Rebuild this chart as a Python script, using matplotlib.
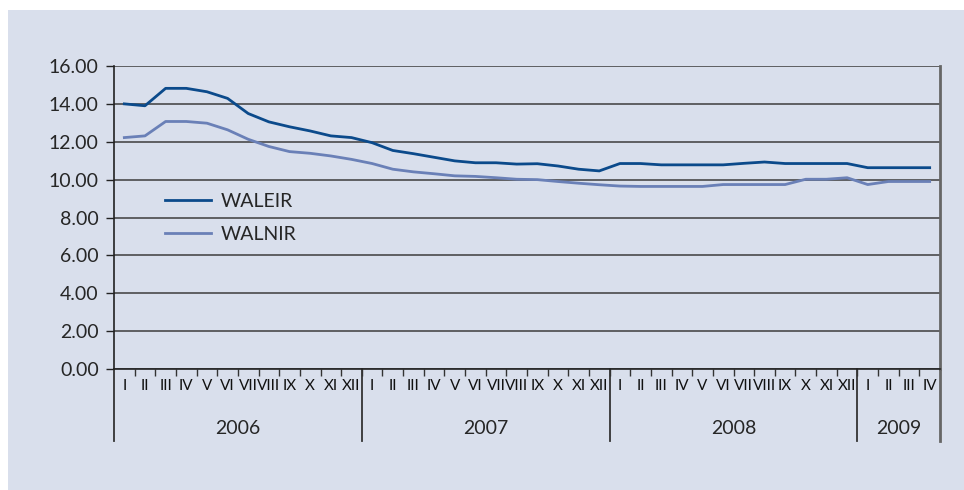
import matplotlib
matplotlib.use('Agg')
import matplotlib.pyplot as plt
from matplotlib.patches import Rectangle
import numpy as np

# monthly series, Jan 2006 .. Apr 2009
MONTHS = ['I', 'II', 'III', 'IV', 'V', 'VI', 'VII', 'VIII', 'IX', 'X', 'XI', 'XII']
YEARS = ['2006', '2007', '2008', '2009']
YEAR_LEN = [12, 12, 12, 4]

waleir = [14.00, 13.90, 14.82, 14.82, 14.64, 14.29, 13.49, 13.05, 12.79, 12.57, 12.31, 12.22,
          11.95, 11.54, 11.37, 11.18, 10.99, 10.89, 10.89, 10.82, 10.84, 10.72, 10.55, 10.46,
          10.85, 10.85, 10.78, 10.78, 10.78, 10.78, 10.86, 10.93, 10.85, 10.85, 10.85, 10.85,
          10.63, 10.63, 10.63, 10.63]
walnir = [12.22, 12.31, 13.07, 13.07, 12.98, 12.63, 12.13, 11.75, 11.48, 11.39, 11.25, 11.07,
          10.85, 10.55, 10.41, 10.31, 10.20, 10.17, 10.10, 10.02, 10.00, 9.90, 9.81, 9.73,
          9.66, 9.64, 9.64, 9.64, 9.64, 9.74, 9.74, 9.74, 9.74, 10.02, 10.02, 10.10,
          9.74, 9.90, 9.90, 9.90]

BG = '#d9dfec'
C_LEIR = '#0b4a8b'
C_LNIR = '#6a80b7'
TXT = '#262626'
FONT = ['Lato', 'DejaVu Sans']
NARROW = ['Liberation Sans Narrow', 'Lato', 'DejaVu Sans']

fig = plt.figure(figsize=(9.64, 4.9), dpi=100)
fig.patch.set_facecolor('white')
fig.add_artist(Rectangle((8 / 964, 0), 1, 480 / 490, transform=fig.transFigure,
                         facecolor=BG, edgecolor='none', zorder=-5))

ax = fig.add_axes([114 / 964, 121 / 490, 826 / 964, 303 / 490])
ax.patch.set_alpha(0)

n = len(waleir)
x = np.arange(n) + 0.5
ax.plot(x, waleir, color=C_LEIR, lw=2.0, label='WALEIR', zorder=3)
ax.plot(x, walnir, color=C_LNIR, lw=2.0, label='WALNIR', zorder=3)

ax.set_xlim(0, n)
ax.set_ylim(0, 16)
ax.set_yticks(np.arange(0, 17, 2))
ax.set_yticklabels([f'{v:.2f}' for v in np.arange(0, 17, 2)],
                   family=FONT, fontsize=14, color=TXT)
ax.yaxis.grid(True, color='#4a4a4a', lw=1.2)
ax.set_axisbelow(True)
ax.tick_params(axis='y', direction='out', length=6, width=1, color='#222222', pad=5)

# month labels centred in each slot, little ticks between slots
labels = []
for y, cnt in zip(YEARS, YEAR_LEN):
    labels += MONTHS[:cnt]
ax.set_xticks(x)
ax.set_xticklabels(labels, family=NARROW, fontsize=11, color='#111111')
ax.tick_params(axis='x', which='major', length=0, pad=7)
ax.set_xticks(np.arange(1, n), minor=True)
ax.tick_params(axis='x', which='minor', direction='out', length=5, width=1, color='#333333')

ax.spines['top'].set_visible(False)
ax.spines['left'].set_color('#222222')
ax.spines['left'].set_linewidth(1.2)
ax.spines['bottom'].set_color('#222222')
ax.spines['bottom'].set_linewidth(1.2)
ax.spines['right'].set_color('#666666')
ax.spines['right'].set_linewidth(2)

# year separators and year labels below the month row
trans = ax.get_xaxis_transform()
bounds = np.concatenate([[0], np.cumsum(YEAR_LEN)])
for b in bounds:
    col = '#666666' if b == n else '#333333'
    ax.plot([b, b], [0, -0.2376], transform=trans, color=col, lw=1.3 if b < n else 2,
            clip_on=False)
for y, lo, hi in zip(YEARS, bounds[:-1], bounds[1:]):
    ax.text((lo + hi) / 2, -0.198, y, transform=trans, ha='center', va='center',
            family=FONT, fontsize=14, color=TXT)

leg = ax.legend(loc='upper left', bbox_to_anchor=(0.04, 0.64), frameon=False,
                prop={'family': FONT, 'size': 14},
                handlelength=2.4, handletextpad=0.5, labelspacing=0.85)
for t in leg.get_texts():
    t.set_color(TXT)

fig.savefig('out.png', dpi=100, facecolor=fig.get_facecolor())
